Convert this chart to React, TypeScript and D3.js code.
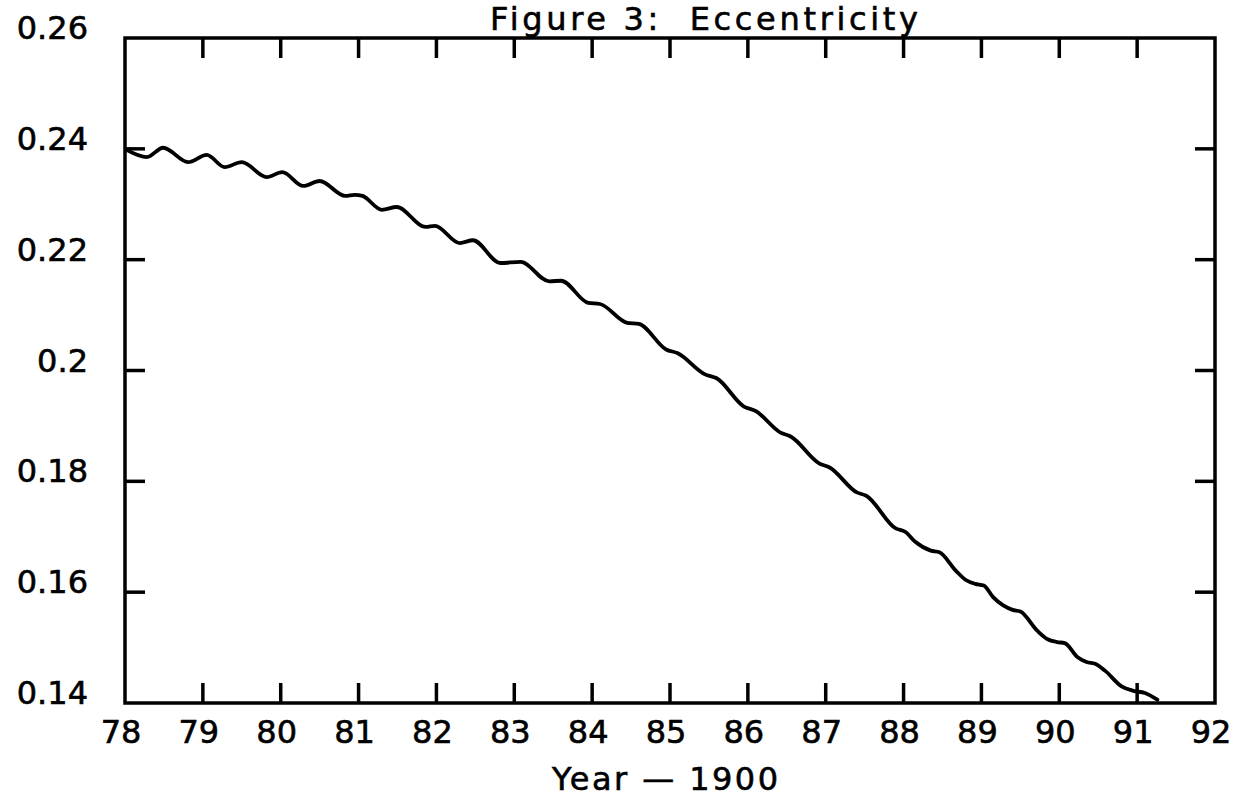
import React from "react";
import * as d3 from "d3";

const years: number[] = [
  78.02, 78.28, 78.49, 78.81, 79.05, 79.28, 79.5, 79.82, 80.02, 80.29, 80.5, 80.83, 80.95, 81.05,
  81.3, 81.49, 81.86, 81.98, 82.3, 82.47, 82.82, 83.08, 83.45, 83.6, 83.95, 84.1, 84.45, 84.6,
  84.95, 85.1, 85.45, 85.6, 85.95, 86.1, 86.42, 86.55, 86.92, 87.05, 87.4, 87.52, 87.9, 88.02,
  88.15, 88.35, 88.46, 88.67, 88.8, 88.92, 89.03, 89.15, 89.28, 89.4, 89.5, 89.72, 89.85, 89.97,
  90.07, 90.24, 90.35, 90.46, 90.59, 90.8, 90.95, 91.1, 91.26,
];
const eccentricity: number[] = [
  0.2398, 0.2385, 0.2402, 0.2376, 0.2389, 0.2367, 0.2376, 0.2349, 0.2358, 0.2333, 0.2342, 0.2315, 0.2317, 0.2315,
  0.229, 0.2295, 0.2259, 0.2261, 0.223, 0.2235, 0.2194, 0.2196, 0.2161, 0.2162, 0.2122, 0.212, 0.2086, 0.2084,
  0.2038, 0.2031, 0.1993, 0.1986, 0.1935, 0.1927, 0.1888, 0.1881, 0.1832, 0.1825, 0.178, 0.1774, 0.1715, 0.1709,
  0.1691, 0.1675, 0.1672, 0.1639, 0.1622, 0.1615, 0.1612, 0.1591, 0.1576, 0.1568, 0.1565, 0.153, 0.1515, 0.151,
  0.1508, 0.1482, 0.1474, 0.1471, 0.1458, 0.143, 0.1422, 0.1418, 0.1406,
];
const xTicks: number[] = [78, 79, 80, 81, 82, 83, 84, 85, 86, 87, 88, 89, 90, 91, 92];
const yTicks: number[] = [0.14, 0.16, 0.18, 0.2, 0.22, 0.24, 0.26];
const yTickLabels: string[] = ["0.14", "0.16", "0.18", "0.2", "0.22", "0.24", "0.26"];
const title = "Figure 3:\u00a0\u00a0Eccentricity";
const xTitle = "Year — 1900";

const W = 1247;
const H = 812;
const L = 125, R = 1215, T = 38, B = 703;
const FONT = "'DejaVu Sans', sans-serif";

export default function App() {
  const x = d3.scaleLinear().domain([78, 92]).range([L, R]);
  const y = d3.scaleLinear().domain([0.14, 0.26]).range([B, T]);
  const pts: [number, number][] = years.map((yr, i) => [yr, eccentricity[i]]);
  const line = d3
    .line<[number, number]>()
    .x((d) => x(d[0]))
    .y((d) => y(d[1]))
    .curve(d3.curveMonotoneX);
  const tickLen = 20;
  const textStyle = { stroke: "#000", strokeWidth: 0.6 };
  return (
    <svg
      width={W}
      height={H}
      style={{ position: "absolute", left: 0, top: 0, background: "#fff" }}
    >
      <rect x={0} y={0} width={W} height={H} fill="#fff" />
      {/* frame */}
      <rect x={L} y={T} width={R - L} height={B - T} fill="none" stroke="#000" strokeWidth={3.5} />
      {/* x ticks */}
      {xTicks.slice(1, -1).map((t) => (
        <g key={"xt" + t}>
          <line x1={x(t)} x2={x(t)} y1={B} y2={B - tickLen} stroke="#000" strokeWidth={3.5} />
          <line x1={x(t)} x2={x(t)} y1={T} y2={T + tickLen} stroke="#000" strokeWidth={3.5} />
        </g>
      ))}
      {/* y ticks */}
      {yTicks.slice(1, -1).map((t) => (
        <g key={"yt" + t}>
          <line x1={L} x2={L + tickLen} y1={y(t)} y2={y(t)} stroke="#000" strokeWidth={3.5} />
          <line x1={R} x2={R - tickLen} y1={y(t)} y2={y(t)} stroke="#000" strokeWidth={3.5} />
        </g>
      ))}
      {/* x labels */}
      {xTicks.map((t) => (
        <text key={"xl" + t} x={x(t) - 4} y={743} textAnchor="middle" fontFamily={FONT} fontSize={32} fill="#000" {...textStyle}>
          {String(t)}
        </text>
      ))}
      {/* y labels */}
      {yTicks.map((t, i) => (
        <text key={"yl" + t} x={88} y={y(t) + 1} textAnchor="end" fontFamily={FONT} fontSize={32} fill="#000" {...textStyle}>
          {yTickLabels[i]}
        </text>
      ))}
      {/* curve */}
      <path d={line(pts) || ""} fill="none" stroke="#000" strokeWidth={3.8} strokeLinejoin="round" strokeLinecap="round" />
      {/* titles */}
      <text x={704} y={30} textAnchor="middle" fontFamily={FONT} fontSize={32} fill="#000" textLength={428} lengthAdjust="spacing" {...textStyle}>
        {title}
      </text>
      <text x={665} y={790} textAnchor="middle" fontFamily={FONT} fontSize={32} fill="#000" textLength={226} lengthAdjust="spacing" {...textStyle}>
        {xTitle}
      </text>
    </svg>
  );
}
